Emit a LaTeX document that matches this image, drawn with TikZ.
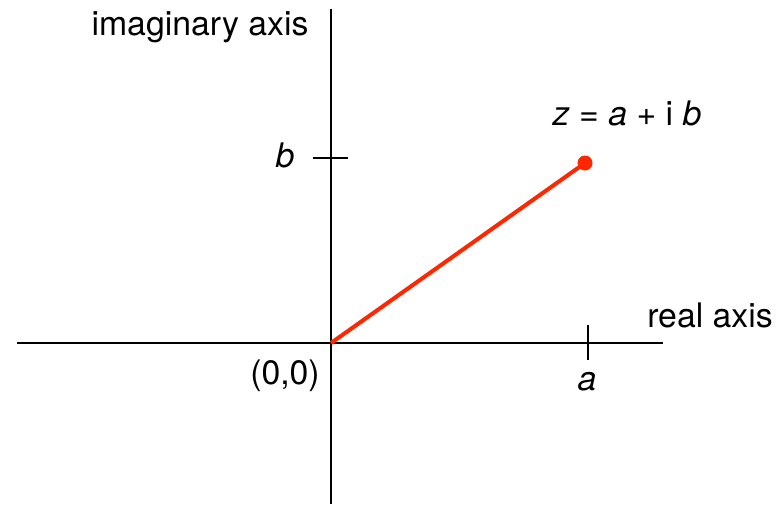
\documentclass[tikz,border=0pt]{standalone}
\usepackage{fontspec}
\setmainfont{TeX Gyre Heros}
\definecolor{zred}{RGB}{255,38,0}
\begin{document}
\begin{tikzpicture}[x=1pt,y=-1pt,
  axis/.style={line width=2.6pt,black},
  tickmark/.style={line width=2pt,black},
  lbl/.style={inner sep=0pt,anchor=base,font=\fontsize{33.8}{40}\selectfont},
  zline/.style={line width=4pt,zred},
  zdot/.style={circle,fill=zred,inner sep=0pt,minimum size=15pt}]
\useasboundingbox (0,0) rectangle (776,504);
\coordinate (O) at (331,343);
\coordinate (xl) at (17,343);
\coordinate (xr) at (663,343);
\coordinate (yt) at (331,9);
\coordinate (yb) at (331,504);
\coordinate (tb1) at (313,158);
\coordinate (tb2) at (348,158);
\coordinate (ta1) at (588,325);
\coordinate (ta2) at (588,360);
\draw[axis] (xl) -- (xr);
\draw[axis] (yt) -- (yb);
\draw[tickmark] (tb1) -- (tb2);
\draw[tickmark] (ta1) -- (ta2);
\node[zdot] (z) at (585,163) {};
\draw[zline] (O) -- (z.center);
\node[lbl] (imag) at (200,35) {imaginary axis};
\node[lbl] (real) at (710,327) {real axis};
\node[lbl] (blbl) at (285,167) {\itshape b};
\node[lbl] (albl) at (587,390) {\itshape a};
\node[lbl] (orig) at (285,384) {(0,0)};
\node[lbl] (zlbl) at (627,125) {\textit{z} = \textit{a} + i \textit{b}};
\end{tikzpicture}
\end{document}
